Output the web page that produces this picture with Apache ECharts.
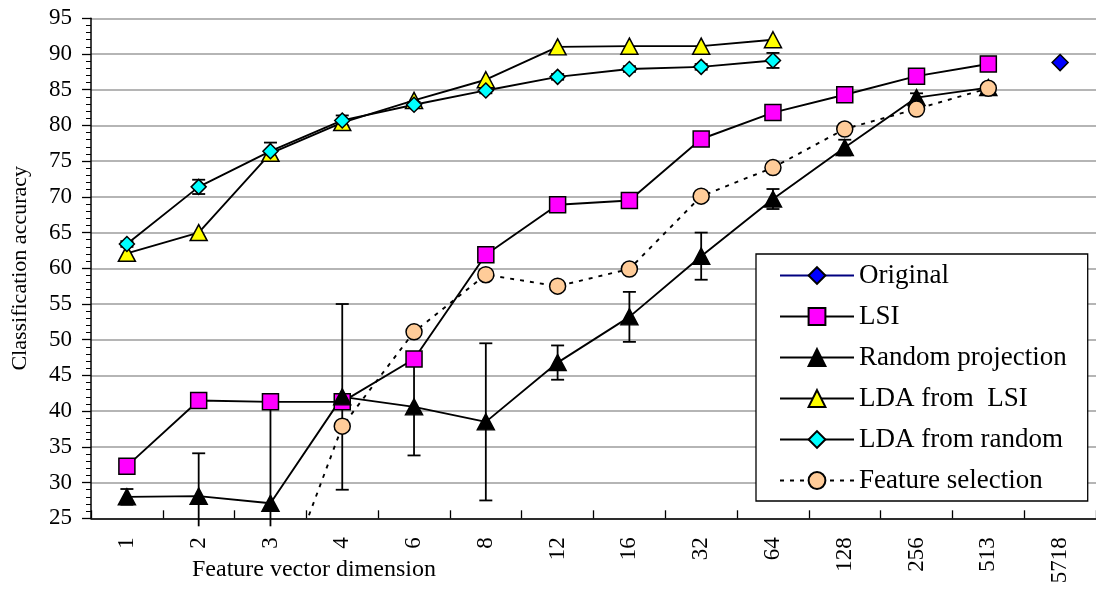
<!DOCTYPE html>
<html><head><meta charset="utf-8">
<script src="https://cdn.jsdelivr.net/npm/echarts@6/dist/echarts.min.js"></script>
<style>html,body{margin:0;padding:0;background:#fff}#c{width:1096px;height:592px}</style>
</head><body><div id="c"></div>
<script>
const categories = ['1','2','3','4','6','8','12','16','32','64','128','256','513','5718'];
const yTicks = [25, 95, 5];
const original   = [null,null,null,null,null,null,null,null,null,null,null,null,null,88.8];
const lsi        = [32.3,41.5,41.3,41.3,47.3,61.9,68.9,69.5,78.1,81.8,84.3,86.9,88.6,null];
const randomProj = [28.0,28.1,27.1,42.0,40.6,38.5,46.8,53.2,61.7,69.7,76.9,83.9,85.3,null];
const randomErr  = [1.1,6.0,15.0,13.0,6.8,11.0,2.4,3.5,3.3,1.4,1.1,0.6,0.4,null];
const ldaLsi     = [62.1,65.0,76.1,80.4,83.5,86.4,91.0,91.1,91.1,92.0,null,null,null,null];
const ldaRandom  = [63.4,71.4,76.4,80.7,82.9,84.9,86.8,87.9,88.2,89.1,null,null,null,null];
const ldaRandomErr=[0.4,1.0,1.2,0.7,0.4,0.4,0.4,0.4,0.4,1.05,null,null,null,null];
const featureSel = [null,null,11.0,37.9,51.1,59.1,57.5,59.9,70.1,74.1,79.5,82.3,85.2,null];

const FONT = 'Liberation Serif';
function errData(vals, errs){
  const out = [];
  vals.forEach((v,i)=>{ if(v!=null && errs[i]!=null) out.push([i, v-errs[i], v+errs[i]]); });
  return out;
}
function renderErr(params, api){
  const x = api.value(0), lo = api.value(1), hi = api.value(2);
  const top = api.coord([x, hi]);
  const bot = api.coord([x, lo]);
  const cs = params.coordSys;
  const bottomPx = cs.y + cs.height;
  const hw = 6.5;
  const st = {stroke:'#000', lineWidth:1.8};
  let yb = bot[1], capB = true;
  if (yb > bottomPx + 8) { yb = bottomPx + 8; capB = false; }
  const ch = [
    {type:'line', shape:{x1:top[0], y1:top[1], x2:top[0], y2:yb}, style:st},
    {type:'line', shape:{x1:top[0]-hw, y1:top[1], x2:top[0]+hw, y2:top[1]}, style:st}
  ];
  if (capB) ch.push({type:'line', shape:{x1:top[0]-hw, y1:yb, x2:top[0]+hw, y2:yb}, style:st});
  return {type:'group', children: ch};
}
const lineW = 1.9;
function lineSeries(name, data, symbol, size, fill, lineColor, dashed){
  return {
    name, type:'line', data, symbol, symbolSize:size, connectNulls:false,
    showSymbol:true, z:3,
    lineStyle:{color:lineColor||'#000', width:lineW, type: dashed ? [4,6] : 'solid'},
    itemStyle:{color:fill, borderColor:'#000', borderWidth:1.5},
    emphasis:{disabled:true}
  };
}
const chart = echarts.init(document.getElementById('c'), null, {renderer:'canvas'});
chart.setOption({
  animation:false,
  backgroundColor:'#fff',
  grid:{left:91, top:18.3, height:500, width:1014, containLabel:false},
  xAxis:{
    type:'category', data:categories, boundaryGap:true,
    axisLine:{lineStyle:{color:'#000', width:1.5}},
    axisTick:{show:true, inside:true, length:8, alignWithLabel:false, lineStyle:{color:'#000', width:1.3}},
    axisLabel:{rotate:90, margin:19, fontFamily:FONT, fontSize:23, color:'#000', interval:0},
    splitLine:{show:false}
  },
  yAxis:{
    type:'value', min:yTicks[0], max:yTicks[1], interval:yTicks[2],
    name:'Classification accuracy', nameLocation:'middle', nameGap:60,
    nameTextStyle:{fontFamily:FONT, fontSize:22, color:'#000'},
    axisLine:{show:true, lineStyle:{color:'#000', width:1.5}},
    axisTick:{show:true, inside:false, length:9, lineStyle:{color:'#000', width:1.3}},
    minorTick:{show:true, splitNumber:5, length:5, lineStyle:{color:'#000', width:1}},
    axisLabel:{margin:19, fontFamily:FONT, fontSize:23, color:'#000'},
    splitLine:{show:true, lineStyle:{color:'#9c9c9c', width:1.6}}
  },
  legend:{
    orient:'vertical', left:756, top:254,
    padding:[8,21,7,23], itemGap:14, itemWidth:74, itemHeight:21,
    borderColor:'#000', borderWidth:1.3, backgroundColor:'#fff',
    textStyle:{fontFamily:FONT, fontSize:27, color:'#000'},
    data:['Original','LSI','Random projection','LDA from  LSI','LDA from random','Feature selection']
  },
  graphic:[{
    type:'text', left:192, top:558,
    style:{text:'Feature vector dimension', font:'24px "Liberation Serif"', fill:'#000'}
  }],
  series:[
    {type:'custom', name:'err-random', renderItem:renderErr, data:errData(randomProj, randomErr), z:2, encode:{x:0, y:[1,2]}, silent:true},
    {type:'custom', name:'err-ldarandom', renderItem:renderErr, data:errData(ldaRandom, ldaRandomErr), z:2, encode:{x:0, y:[1,2]}, silent:true},
    lineSeries('Original', original, 'diamond', 16, '#0000FF', '#000080'),
    lineSeries('LSI', lsi, 'rect', 16, '#FF00FF'),
    lineSeries('Random projection', randomProj, 'triangle', [17,16], '#000000'),
    lineSeries('LDA from  LSI', ldaLsi, 'triangle', [17,16], '#FFFF00'),
    lineSeries('LDA from random', ldaRandom, 'diamond', 15, '#00FFFF'),
    lineSeries('Feature selection', featureSel, 'circle', 16, '#FFCC99', '#000', true)
  ]
});
</script></body></html>
